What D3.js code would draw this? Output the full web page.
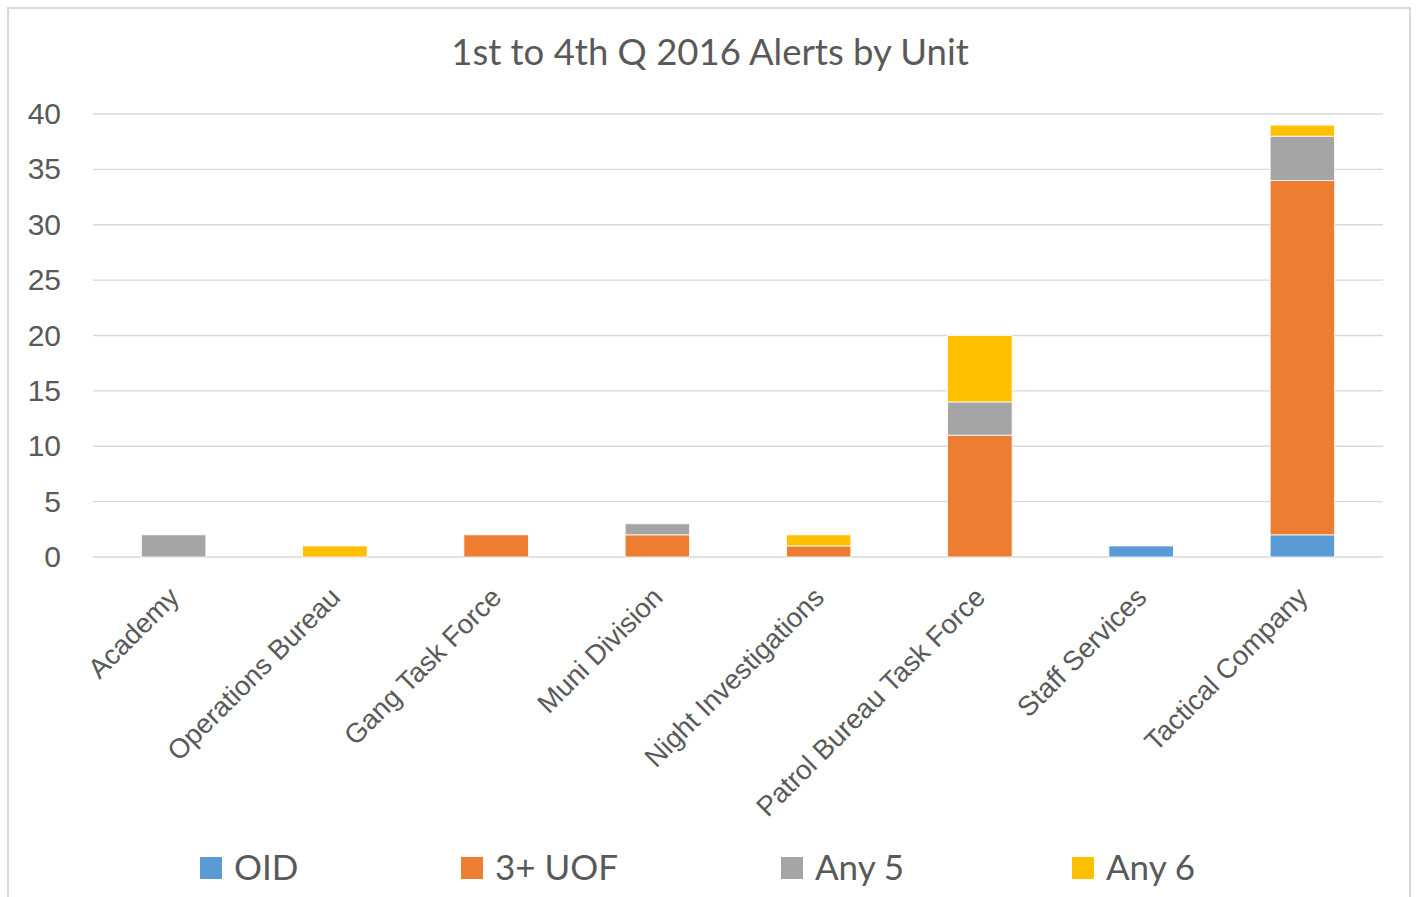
<!DOCTYPE html>
<html>
<head>
<meta charset="utf-8">
<script src="https://cdn.jsdelivr.net/npm/d3@7"></script>
<style>
  body { margin: 0; background: #fff; }
  svg { display: block; font-family: Lato, "Open Sans", sans-serif; }
</style>
</head>
<body>
<svg id="svg"></svg>
<script>
// chart data
const units = ["Academy", "Operations Bureau", "Gang Task Force", "Muni Division",
               "Night Investigations", "Patrol Bureau Task Force", "Staff Services", "Tactical Company"];
const seriesNames = ["OID", "3+ UOF", "Any 5", "Any 6"];
const seriesColors = ["#5b9bd5", "#ed7d31", "#a5a5a5", "#ffc000"];
const oid    = [0, 0, 0, 0, 0, 0, 1, 2];
const uof    = [0, 0, 2, 2, 1, 11, 0, 32];
const any5   = [2, 0, 0, 1, 0, 3, 0, 4];
const any6   = [0, 1, 0, 0, 1, 6, 0, 1];
const yTicks = [0, 5, 10, 15, 20, 25, 30, 35, 40];
const title = "1st to 4th Q 2016 Alerts by Unit";

const w = 1416;
const h = 897;
let svg = d3.select("#svg").attr("width", w).attr("height", h);

// outer chart border
svg.append("rect")
   .attr("x", 8).attr("y", 8)
   .attr("width", 1402).attr("height", 900)
   .attr("fill", "#fff")
   .attr("stroke", "#d9d9d9")
   .attr("stroke-width", 2);

const plot = { left: 93, right: 1383, top: 114, bottom: 557 };

let table = units.map((u, i) => ({
  unit: u, "OID": oid[i], "3+ UOF": uof[i], "Any 5": any5[i], "Any 6": any6[i]
}));
let stacked = d3.stack().keys(seriesNames)(table);

let xScale = d3.scaleBand()
               .domain(units)
               .range([plot.left, plot.right])
               .paddingInner(0.6)
               .paddingOuter(0.3);
let yScale = d3.scaleLinear()
               .domain([0, 40])
               .range([plot.bottom, plot.top]);

// gridlines
svg.append("g")
   .selectAll("line")
   .data(yTicks)
   .enter()
   .append("line")
   .attr("x1", plot.left)
   .attr("x2", plot.right)
   .attr("y1", d => yScale(d))
   .attr("y2", d => yScale(d))
   .attr("stroke", "#d9d9d9")
   .attr("stroke-width", 1.3);

// y axis labels
let yAxis = d3.axisLeft(yScale).tickValues(yTicks).tickSize(0).tickPadding(32);
let yg = svg.append("g")
   .attr("transform", "translate(" + plot.left + ",0)")
   .call(yAxis);
yg.select(".domain").remove();
yg.selectAll("text")
  .attr("fill", "#595959")
  .style("font-size", "30px");

// stacked bars
svg.append("g")
   .selectAll("g")
   .data(stacked)
   .enter()
   .append("g")
   .attr("fill", (d, i) => seriesColors[i])
   .selectAll("rect")
   .data(d => d.filter(s => s[1] - s[0] > 0))
   .enter()
   .append("rect")
   .attr("x", d => xScale(d.data.unit))
   .attr("y", d => yScale(d[1]))
   .attr("width", xScale.bandwidth())
   .attr("height", d => yScale(d[0]) - yScale(d[1]))
   .attr("stroke", "#fff")
   .attr("stroke-width", 0.8);

// x axis labels, rotated
let xAxis = d3.axisBottom(xScale).tickSize(0).tickPadding(0);
let xg = svg.append("g")
   .attr("transform", "translate(0," + plot.bottom + ")")
   .call(xAxis);
xg.select(".domain").remove();
xg.selectAll("text")
  .attr("fill", "#595959")
  .style("font-size", "27.5px")
  .style("text-anchor", "end")
  .attr("dy", "0")
  .attr("transform", "translate(7,42) rotate(-45)");

// title
svg.append("text")
   .attr("x", 710)
   .attr("y", 65)
   .attr("text-anchor", "middle")
   .attr("fill", "#595959")
   .style("font-size", "36.5px")
   .text(title);

// legend
const legendX = [200, 461, 781, 1072];
let lg = svg.append("g")
   .selectAll("g")
   .data(seriesNames)
   .enter()
   .append("g")
   .attr("transform", (d, i) => "translate(" + legendX[i] + ",857)");
lg.append("rect")
  .attr("width", 22)
  .attr("height", 22)
  .attr("fill", (d, i) => seriesColors[i]);
lg.append("text")
  .attr("x", 34)
  .attr("y", 23)
  .attr("fill", "#595959")
  .style("font-size", "35px")
  .text(d => d);
</script>
</body>
</html>
